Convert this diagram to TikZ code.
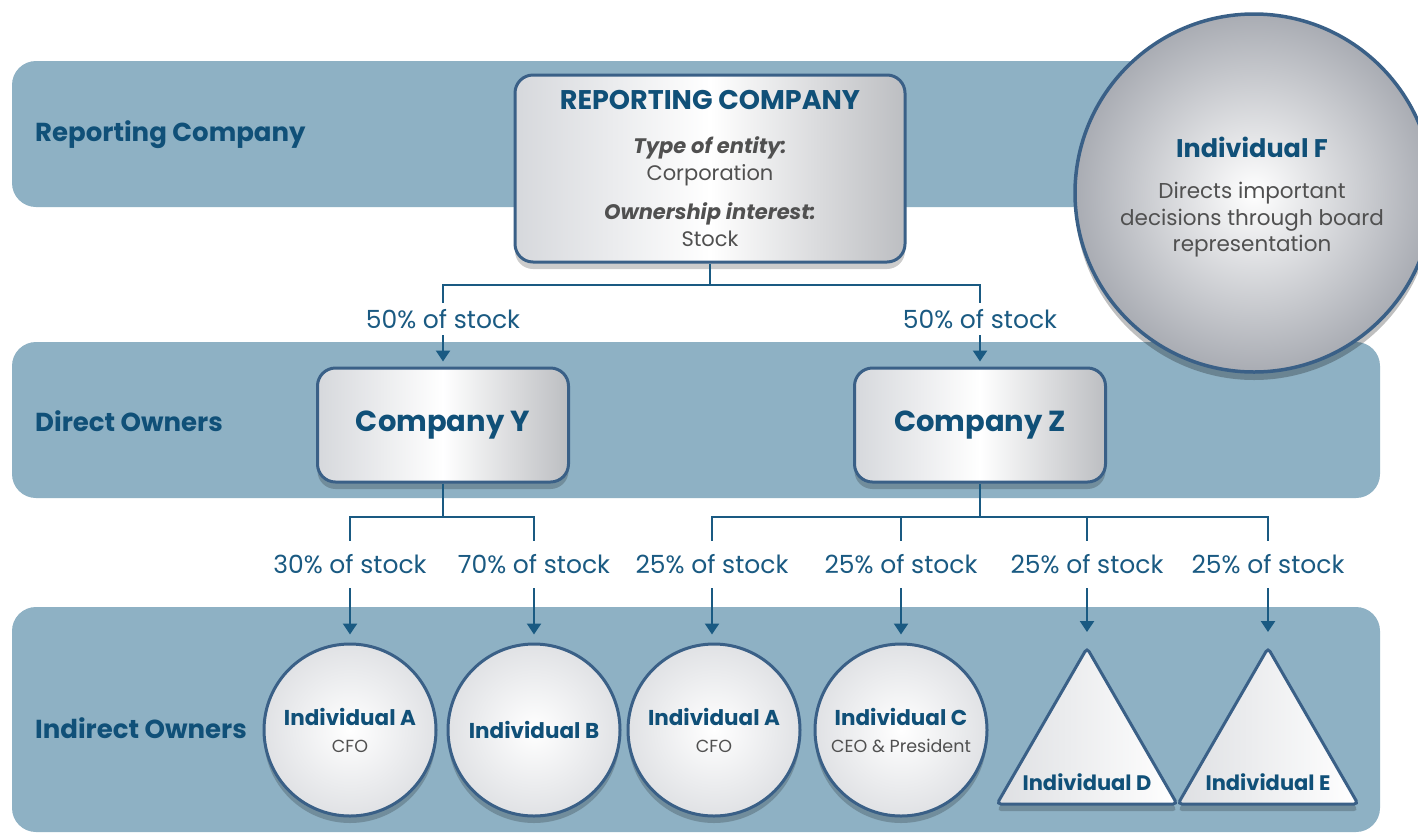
\documentclass[tikz,border=0pt]{standalone}
\usepackage{fontspec}
\setmainfont{Poppins}
\usetikzlibrary{shapes.geometric,shadows,arrows.meta}
\definecolor{band}{HTML}{8EB1C4}
\definecolor{navy}{HTML}{105078}
\definecolor{lineblue}{HTML}{1A5A82}
\definecolor{txtgray}{HTML}{505050}
\definecolor{rim}{HTML}{3A6087}
\definecolor{silverL}{HTML}{D6D8DC}
\definecolor{silverD}{HTML}{A9ACB3}
\tikzset{
  bandfill/.style={fill=band, rounded corners=24pt},
  bandlabel/.style={anchor=west, inner sep=0pt, text=navy, font=\fontsize{26}{30}\selectfont\bfseries},
  pct/.style={text=lineblue, inner xsep=2pt, inner ysep=0pt, font=\fontsize{25}{28}\selectfont},
  conn/.style={draw=lineblue, line width=2.4pt},
  arr/.style={conn, -{Triangle[width=14pt,length=11pt]}},
  shade/.style={drop shadow={shadow xshift=0pt, shadow yshift=-7pt, opacity=0.2, fill=black}},
  box/.style={shade, rounded corners=18pt, draw=rim, line width=3pt, left color=silverL, right color=silverL!88!black, middle color=white},
  disc/.style={shade, circle, minimum size=172pt, inner sep=0pt, draw=rim, line width=3pt, inner color=white, outer color=silverL!75!white, align=center, text=navy, font=\fontsize{21.5}{27}\selectfont\bfseries},
  tri/.style={shade, regular polygon, regular polygon sides=3, minimum size=208pt, inner sep=0pt, draw=rim, line width=3pt, rounded corners=4pt, left color=silverL!80!white, right color=white},
  indname/.style={text=navy, inner sep=0pt, font=\fontsize{21}{24}\selectfont\bfseries},
}
\newcommand{\rolefont}{\fontsize{17.5}{20}\selectfont\mdseries\color{txtgray}}
\begin{document}
\begin{tikzpicture}[x=1pt,y=-1pt]
\useasboundingbox (0,0) rectangle (1418,839);
\fill[white] (0,0) rectangle (1418,839);
% bands
\fill[bandfill] (12,61) rectangle (1380,207);
\fill[bandfill] (12,342) rectangle (1380,498);
\fill[bandfill] (12,607) rectangle (1380,832);
\node[bandlabel] (lrc) at (35,135) {Reporting Company};
\node[bandlabel] (ldo) at (35,421) {Direct Owners};
\node[bandlabel] (lio) at (35,728) {Indirect Owners};
% Individual F
\node[circle, minimum size=358pt, inner sep=0pt, draw=rim, line width=3.5pt, inner color=white, outer color=silverD, drop shadow={shadow xshift=0pt, shadow yshift=-8pt, opacity=0.25, fill=black}] (F) at (1254,193) {};
\node[align=center, text=txtgray, font=\fontsize{21.5}{26.5}\selectfont] (Ft) at (1252,197)
  {{\fontsize{25.5}{27}\selectfont\bfseries\color{navy}Individual F}\\[15pt]Directs important\\decisions through board\\representation};
% reporting company
\node[box, minimum width=390pt, minimum height=187pt, align=center, text=txtgray, font=\fontsize{21}{26.5}\selectfont] (rc) at (710,168.5)
  {{\fontsize{27}{27}\selectfont\bfseries\color{navy}REPORTING COMPANY}\\[17.5pt]{\bfseries\itshape Type of entity:}\\Corporation\\[13pt]{\bfseries\itshape Ownership interest:}\\Stock};
% direct owners
\node[box, minimum width=251pt, minimum height=114pt, text=navy, font=\fontsize{29}{32}\selectfont\bfseries] (cy) at (443,425) {Company Y};
\node[box, minimum width=251pt, minimum height=114pt, text=navy, font=\fontsize{29}{32}\selectfont\bfseries] (cz) at (980,425) {Company Z};
% percentage labels
\node[pct, minimum height=32pt] (p1) at (443,319) {50\% of stock};
\node[pct, minimum height=32pt] (p2) at (980,319) {50\% of stock};
\node[pct, minimum height=47pt] (p3) at (350,564.5) {30\% of stock};
\node[pct, minimum height=47pt] (p4) at (534,564.5) {70\% of stock};
\node[pct, minimum height=47pt] (p5) at (712,564.5) {25\% of stock};
\node[pct, minimum height=47pt] (p6) at (901,564.5) {25\% of stock};
\node[pct, minimum height=47pt] (p7) at (1087,564.5) {25\% of stock};
\node[pct, minimum height=47pt] (p8) at (1268,564.5) {25\% of stock};
% indirect owners
\node[disc] (ia1) at (350,730) {Individual A\\{\rolefont CFO}};
\node[disc] (ib) at (534,730) {Individual B};
\node[disc] (ia2) at (714,730) {Individual A\\{\rolefont CFO}};
\node[disc] (ic) at (901,730) {Individual C\\{\rolefont CEO \& President}};
\node[tri] (D) at (1087,752) {};
\node[indname] (Dt) at (1087,782) {Individual D};
\node[tri] (E) at (1268,752) {};
\node[indname] (Et) at (1268,782) {Individual E};
% connectors
\coordinate (jr) at (710,285);
\draw[conn] (rc.south) -- (jr);
\draw[conn] (p1.north) |- (jr) -| (p2.north);
\draw[arr, shorten >=5pt] (p1.south) -- (p1.south |- cy.north);
\draw[arr, shorten >=5pt] (p2.south) -- (p2.south |- cz.north);
\coordinate (jy) at (443,517);
\coordinate (jz) at (980,517);
\draw[conn] (cy.south) -- (jy);
\draw[conn] (cz.south) -- (jz);
\draw[conn] (p3.north) |- (jy) -| (p4.north);
\draw[conn] (p5.north) |- (jz) -| (p8.north);
\draw[conn] (p6.north) -- (p6.north |- jz);
\draw[conn] (p7.north) -- (p7.north |- jz);
\draw[arr, shorten >=8pt] (p3.south) -- (p3.south |- ia1.north);
\draw[arr, shorten >=8pt] (p4.south) -- (p4.south |- ib.north);
\draw[arr, shorten >=8pt] (p5.south) -- (p5.south |- ia2.north);
\draw[arr, shorten >=8pt] (p6.south) -- (p6.south |- ic.north);
\draw[arr, shorten >=13pt] (p7.south) -- (D.north);
\draw[arr, shorten >=13pt] (p8.south) -- (E.north);
\end{tikzpicture}
\end{document}
